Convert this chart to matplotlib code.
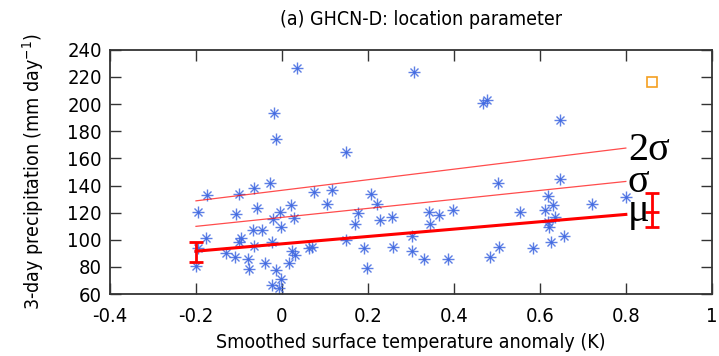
import matplotlib
matplotlib.use("Agg")
import matplotlib.pyplot as plt
import numpy as np

plt.rcParams['axes.unicode_minus'] = False
plt.rcParams['font.stretch'] = 'condensed'

# station values (temperature anomaly, 3-day precipitation)
anomaly = [0.034, 0.308, -0.019, -0.014, 0.150, -0.175, -0.099, -0.065, -0.027,
           0.074, 0.116, 0.206, 0.222, -0.195, -0.106, -0.059, -0.005, 0.022,
           -0.020, 0.028, 0.105, 0.177, 0.170, 0.229, 0.257, 0.302, -0.177,
           -0.067, -0.047, -0.002, -0.096, -0.099, -0.064, -0.022, -0.195,
           -0.200, -0.130, -0.110, -0.079, -0.076, -0.040, -0.014, -0.002,
           -0.023, -0.008, 0.017, 0.023, 0.031, 0.063, 0.071, 0.150, 0.191,
           0.198, 0.259, 0.302, 0.467, 0.476, 0.648, 0.502, 0.647, 0.619,
           0.631, 0.612, 0.636, 0.619, 0.622, 0.626, 0.656, 0.721, 0.800,
           0.553, 0.583, 0.504, 0.485, 0.387, 0.330, 0.341, 0.344, 0.366,
           0.397]
precip = [226.4, 223.5, 193.3, 174.6, 164.7, 133.1, 134.0, 138.0, 141.5,
          135.0, 136.5, 134.0, 126.2, 120.2, 119.3, 123.7, 120.7, 125.7,
          115.3, 115.8, 126.7, 119.8, 111.9, 114.8, 116.8, 103.0, 101.0,
          106.9, 106.9, 109.4, 101.0, 98.5, 95.6, 98.5, 93.6,
          80.7, 90.1, 87.2, 86.2, 78.3, 83.2, 77.8, 71.3,
          66.4, 64.4, 83.2, 92.1, 88.7, 93.6, 94.6, 99.5, 94.1,
          79.3, 95.0, 92.1, 200.7, 203.2, 188.4, 141.5, 145.0, 132.1,
          125.7, 122.2, 116.8, 112.8, 109.4, 98.5, 103.0, 126.2, 131.6,
          120.2, 94.1, 95.0, 87.2, 86.2, 86.2, 120.2, 111.3, 118.3,
          122.2]

# fitted location parameter and spread lines
fit_x = [-0.2, 0.8]
mu_line = [91.6, 118.7]
sigma_line = [109.9, 143.0]
two_sigma_line = [128.7, 167.6]

# uncertainty bars
err_x = [-0.2, 0.862]
err_y = [91.6, 120.2]
err_lo = [7.9, 10.8]
err_hi = [6.4, 14.4]

# extra point (orange square)
sq_x = [0.86]
sq_y = [216.0]

fig = plt.figure(figsize=(7.19, 3.56), dpi=100)
ax = fig.add_axes([0.153, 0.174, 0.837, 0.686])

blue = '#4169e1'
ax.plot(anomaly, precip, ls='none', marker='+', ms=8, mew=1.0, color=blue, alpha=0.85)
ax.plot(anomaly, precip, ls='none', marker='x', ms=6, mew=1.0, color=blue, alpha=0.85)

ax.plot(fit_x, mu_line, color='red', lw=2.2)
ax.plot(fit_x, sigma_line, color='red', lw=0.9, alpha=0.7)
ax.plot(fit_x, two_sigma_line, color='red', lw=0.9, alpha=0.7)

ax.errorbar(err_x, err_y, yerr=[err_lo, err_hi], fmt='none', ecolor='red',
            elinewidth=2, capsize=5, capthick=2)
ax.plot(err_x[1:], err_y[1:], ls='none', marker='_', ms=10, mew=2, color='red')

ax.plot(sq_x, sq_y, ls='none', marker='s', ms=7, mfc='none', mec='#f5a020', mew=1.2)

serif = dict(family='Liberation Serif', fontsize=29, color='black', fontstretch='normal')
ax.text(0.805, 159, '2σ', ha='left', va='baseline', **serif)
ax.text(0.805, 135.5, 'σ', ha='left', va='baseline', **serif)
ax.text(0.805, 113.5, 'μ', ha='left', va='baseline', **serif)

ax.set_xlim(-0.4, 1.0)
ax.set_ylim(60, 240)
ax.set_xticks(np.arange(-0.4, 1.01, 0.2))
ax.set_xticklabels(['-0.4', '-0.2', '0', '0.2', '0.4', '0.6', '0.8', '1'])
ax.set_yticks(np.arange(60, 241, 20))
ax.tick_params(direction='in', length=8, width=1, top=True, right=True,
               labelsize=14.5, colors='#333333', labelcolor='black')
ax.tick_params(axis='x', pad=9)
ax.tick_params(axis='y', pad=6)
for s in ax.spines.values():
    s.set_linewidth(1.3)
    s.set_color('#333333')

ax.set_xlabel('Smoothed surface temperature anomaly (K)', fontsize=14, labelpad=5)
ax.set_ylabel('3-day precipitation (mm day$^{-1}$)', fontsize=14, labelpad=15)
fig.text(0.585, 0.945, '(a) GHCN-D: location parameter', ha='center', va='center', fontsize=14)

fig.savefig('out.png', dpi=100)
